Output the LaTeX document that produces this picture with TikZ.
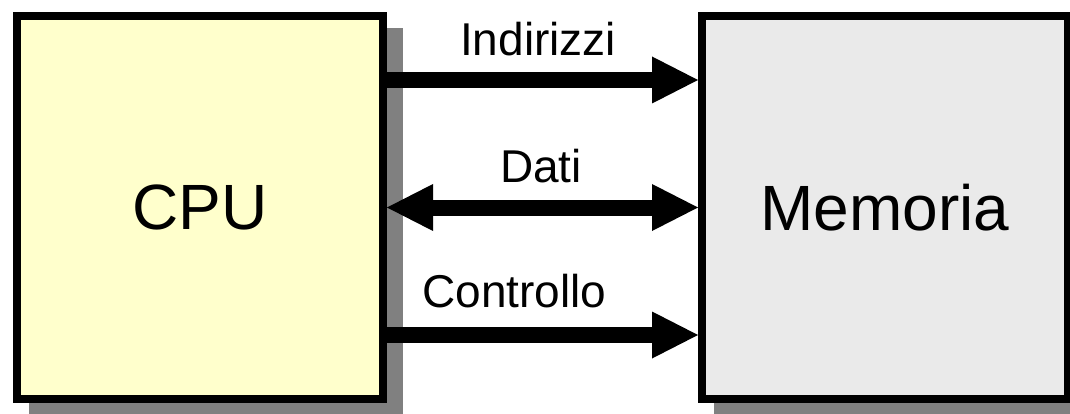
\documentclass[tikz,border=0pt]{standalone}
\usepackage{fontspec}
\setmainfont{Liberation Sans}
\usetikzlibrary{arrows.meta,shadows}
\definecolor{cpuyellow}{RGB}{255,255,204}
\definecolor{memgrey}{RGB}{234,234,234}
\definecolor{shadowgrey}{RGB}{128,128,128}

\begin{document}
\begin{tikzpicture}[x=1pt, y=-1pt,
    unitbox/.style={rectangle, draw=black, line width=8pt,
        minimum width=366pt, minimum height=383pt,
        font=\fontsize{64}{77}\selectfont,
        drop shadow={shadow xshift=16pt, shadow yshift=-16pt,
            fill=shadowgrey, draw=shadowgrey, line width=8pt, opacity=1}},
    bus/.style={line width=16pt, black},
    lbl/.style={font=\fontsize{46}{55}\selectfont, anchor=base},
    >={Triangle[length=46pt, width=47pt, line width=0pt]}
]
    \useasboundingbox (0,0) rectangle (1070,414);

    % Units
    \node[unitbox, fill=cpuyellow] (cpu) at (200,207.5) {CPU};
    \node[unitbox, fill=memgrey] (mem) at (885,207.5) {Memoria};

    % Buses
    \draw[bus, ->] ([yshift=127.5pt]cpu.east) -- ([yshift=127.5pt]mem.west)
        node[lbl, pos=0.486, yshift=24pt] (addr) {Indirizzi};
    \draw[bus, <->] (cpu.east) -- (mem.west)
        node[lbl, pos=0.495, yshift=25pt] (data) {Dati};
    \draw[bus, ->] ([yshift=-127.5pt]cpu.east) -- ([yshift=-127.5pt]mem.west)
        node[lbl, pos=0.41, yshift=28pt] (ctrl) {Controllo};
\end{tikzpicture}
\end{document}
